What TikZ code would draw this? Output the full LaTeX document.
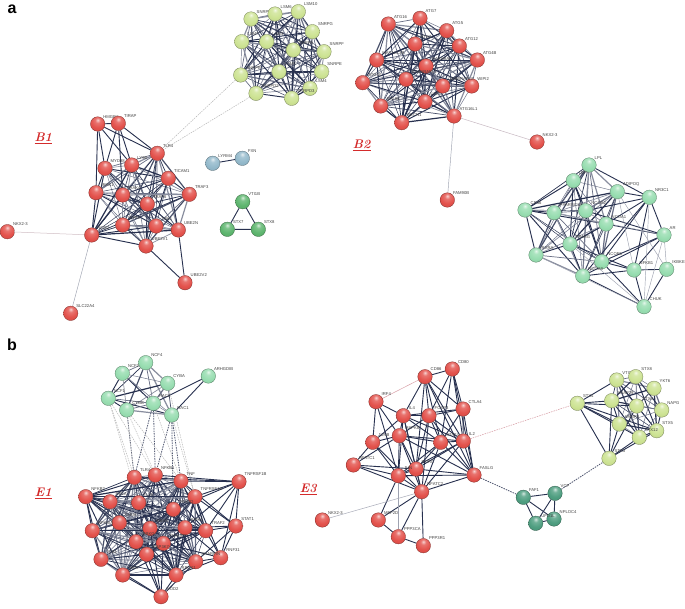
\documentclass[tikz,border=0pt]{standalone}
\usepackage{fontspec}
\setsansfont{Liberation Sans}
\pgfdeclarelayer{bg}
\pgfsetlayers{bg,main}
\makeatletter
\pgfdeclareradialshading[tikz@ball]{lball}{\pgfqpoint{0bp}{14bp}}{%
  color(0bp)=(tikz@ball!25!white); color(9bp)=(tikz@ball!80!white);
  color(24bp)=(tikz@ball); color(42bp)=(tikz@ball!92!black);
  color(56bp)=(tikz@ball!72!black); color(100bp)=(tikz@ball!72!black)}
\makeatother
\definecolor{rc}{HTML}{E3514B}
\definecolor{yc}{HTML}{CDE393}
\definecolor{gc}{HTML}{97DDB0}
\definecolor{tc}{HTML}{4E9E80}
\definecolor{sc}{HTML}{5DB56E}
\definecolor{bc}{HTML}{93B9CB}
\definecolor{ec}{HTML}{27304F}
\definecolor{lr}{HTML}{D42B2B}
\definecolor{pk}{HTML}{D9A0A8}
\tikzset{
  gn/.style={circle, inner sep=0pt, minimum size=14.5pt, ball color=#1, shading=lball, draw=#1!55!black, line width=0.3pt},
  lb/.style={font=\sffamily\fontsize{4.2}{4.5}\selectfont, text=black!75, inner sep=0.3pt},
  ed/.style={draw=ec, line width=0.9pt},
  led/.style={draw=ec!45!white, line width=0.45pt},
  dsh/.style={draw=ec!80!white, line width=0.8pt, dash pattern=on 1.5pt off 1pt},
  ldsh/.style={draw=black!30, line width=0.45pt, dash pattern=on 1.5pt off 1pt},
  pdsh/.style={draw=pk, line width=0.55pt, dash pattern=on 1.5pt off 1pt},
  panel/.style={font=\rmfamily\bfseries\itshape\fontsize{12.5}{12.5}\selectfont, text=lr},
  letter/.style={font=\sffamily\bfseries\fontsize{16}{16}\selectfont}
}
\newcommand\nd[5]{\node[gn=#1, label={[lb]45:#5}] (#2) at (#3,#4) {};}
\newcommand\mkclique[1]{%
  \foreach \a [count=\i] in {#1} {%
    \foreach \b [count=\j] in {#1} {%
      \ifnum\i<\j
        \pgfmathsetmacro\w{0.45+0.25*mod(\i+2*\j,4)}%
        \pgfmathtruncatemacro\pc{100-15*mod(\i*\j,4)}%
        \draw[draw=ec!\pc!white, line width=\w pt] (\a) -- (\b);
      \fi}}}
\begin{document}
\begin{tikzpicture}[x=1pt,y=-1pt]
\useasboundingbox (0,0) rectangle (685,608);
% ---------- panel letters ----------
\node[letter] (la) at (12,9) {a};
\node[letter] (lbb) at (12,345) {b};
\node[panel] (tB1) at (43.3,138.3) {\underline{B1}};
\node[panel] (tB2) at (361.7,145) {\underline{B2}};
\node[panel] (tE1) at (43.3,493.3) {\underline{E1}};
\node[panel] (tE3) at (308.3,489.3) {\underline{E3}};
% ---------- B1 ----------
\nd{rc}{p1}{97.7}{124}{HMGB1}
\nd{rc}{p2}{118.3}{123.3}{TIRAP}
\nd{rc}{p3}{157.3}{153.3}{TLR4}
\nd{rc}{p4}{105}{168.3}{MYD88}
\nd{rc}{p5}{131.7}{165}{LY96}
\nd{rc}{p6}{168.3}{178.3}{TICAM1}
\nd{rc}{p7}{189.3}{194.3}{TRAF3}
\nd{rc}{p8}{96}{192.7}{IRAK1}
\nd{rc}{p9}{122.7}{195}{IRAK4}
\nd{rc}{p10}{147.3}{204}{TRAF6}
\nd{rc}{p11}{122.7}{225}{RIPK2}
\nd{rc}{p12}{156}{226}{TBK1}
\nd{rc}{p13}{178.3}{230}{UBE2N}
\nd{rc}{p14}{91.7}{235}{NOD2}
\nd{rc}{p15}{146}{246}{UBE2V1}
\nd{rc}{p16}{7.3}{231.7}{NKX2-3}
\nd{rc}{p17}{185}{282.7}{UBE2V2}
\nd{rc}{p18}{70.7}{313.3}{SLC22A4}
% ---------- small groups ----------
\nd{bc}{q1}{212.7}{163.3}{LYRM4}
\nd{bc}{q2}{242.3}{158.3}{FXN}
\nd{sc}{v1}{242.7}{201.7}{VTI1B}
\nd{sc}{v2}{227.3}{229.3}{STX7}
\nd{sc}{v3}{258.3}{229.3}{STX8}
% ---------- spliceosome ----------
\nd{yc}{y1}{251}{19}{SNRPD1}
\nd{yc}{y2}{275}{14}{LSM6}
\nd{yc}{y3}{298.3}{11.7}{LSM10}
\nd{yc}{y4}{312.3}{31.7}{SNRPG}
\nd{yc}{y5}{324}{51.7}{SNRPF}
\nd{yc}{y6}{321.7}{71.7}{SNRPE}
\nd{yc}{y7}{310}{88.3}{LSM4}
\nd{yc}{y8}{291.7}{98.3}{SNRPD3}
\nd{yc}{y9}{256}{93.3}{SNRPD2}
\nd{yc}{y10}{240.7}{75}{SNRPB}
\nd{yc}{y11}{241.7}{41.7}{LSM7}
\nd{yc}{y12}{266.7}{41.7}{LSM3}
\nd{yc}{y13}{293.3}{50}{SNRPA}
\nd{yc}{y14}{279}{71.7}{LSM5}
% ---------- B2 ----------
\nd{rc}{a1}{388.3}{24}{ATG16}
\nd{rc}{a2}{420}{18.3}{ATG7}
\nd{rc}{a3}{446.7}{30.7}{ATG5}
\nd{rc}{a4}{459.3}{46}{ATG12}
\nd{rc}{a5}{477.3}{60}{ATG4B}
\nd{rc}{a6}{471.7}{86}{WIPI2}
\nd{rc}{a7}{454}{116}{ATG16L1}
\nd{rc}{a8}{425}{101.7}{ULK1}
\nd{rc}{a9}{442.7}{86}{GABARAPL2}
\nd{rc}{a10}{426}{66}{GABARAP}
\nd{rc}{a11}{415}{44}{ATG3}
\nd{rc}{a12}{376.7}{60}{MAP1LC3B}
\nd{rc}{a13}{362.7}{82.7}{ATG10}
\nd{rc}{a14}{406}{79.3}{GABARAPL1}
\nd{rc}{a15}{380.7}{106}{ATG9A}
\nd{rc}{a16}{401.7}{122.7}{BECN1}
\nd{rc}{a17}{447.3}{200}{FAM90B}
\nd{rc}{a18}{537}{142}{NKX2-3}
% ---------- lipid cluster ----------
\nd{gc}{g1}{589}{165}{LPL}
\nd{gc}{g2}{573.3}{180.7}{LEP}
\nd{gc}{g3}{617.3}{191.7}{ADIPOQ}
\nd{gc}{g4}{525}{210}{CD36}
\nd{gc}{g5}{554}{212.7}{PPARGC1A}
\nd{gc}{g6}{585.7}{210.7}{NCOA2}
\nd{gc}{g7}{606}{224}{NCOA1}
\nd{gc}{g8}{570}{244}{PPARG}
\nd{gc}{g9}{536}{255}{RXRA}
\nd{gc}{g10}{601.7}{261.7}{NCOR1}
\nd{gc}{g11}{582.7}{276}{NCOA3}
\nd{gc}{g12}{649.3}{197.3}{NR3C1}
\nd{gc}{g13}{664}{235}{AR}
\nd{gc}{g14}{634}{270}{NFKB1}
\nd{gc}{g15}{666.7}{269.3}{IKBKE}
\nd{gc}{g16}{644}{306.7}{CHUK}
% ---------- E1 green ----------
\nd{gc}{e1}{145.7}{362.7}{NCF4}
\nd{gc}{e2}{122.3}{373.3}{NCF2}
\nd{gc}{e3}{167.7}{383.3}{CYBA}
\nd{gc}{e4}{208.3}{376}{ARHGDIB}
\nd{gc}{e5}{108.3}{398.3}{NCF1}
\nd{gc}{e6}{126.7}{410}{CYBB}
\nd{gc}{e7}{153.3}{403.3}{RAC2}
\nd{gc}{e8}{171.7}{415}{RAC1}
% ---------- E1 red ----------
\nd{rc}{r1}{134.3}{477.3}{TLR4}
\nd{rc}{r2}{155.3}{475}{NFKB1}
\nd{rc}{r3}{181}{481}{TNF}
\nd{rc}{r4}{239}{481.7}{TNFRSF1B}
\nd{rc}{r5}{85.7}{496.7}{NFKB2}
\nd{rc}{r6}{110}{501.7}{RELA}
\nd{rc}{r7}{138.7}{502.7}{IL1B}
\nd{rc}{r8}{195}{496.7}{TNFRSF1A}
\nd{rc}{r9}{173.3}{509.3}{TRADD}
\nd{rc}{r10}{119.3}{522.7}{CHUK}
\nd{rc}{r11}{150}{528.3}{IKBKB}
\nd{rc}{r12}{185}{527.7}{RIPK1}
\nd{rc}{r13}{205.7}{530.7}{TRAF2}
\nd{rc}{r14}{235.7}{526}{STAT1}
\nd{rc}{r15}{92.3}{530.7}{NFKBIA}
\nd{rc}{r16}{136}{541.7}{IKBKG}
\nd{rc}{r17}{163.3}{543.3}{TNFAIP3}
\nd{rc}{r18}{146.7}{554.3}{MAP3K7}
\nd{rc}{r19}{101}{559.3}{TAB1}
\nd{rc}{r20}{220.7}{557.7}{RNF31}
\nd{rc}{r21}{195.7}{561.7}{SHARPIN}
\nd{rc}{r22}{122.7}{575}{TAB2}
\nd{rc}{r23}{176}{575}{RBCK1}
\nd{rc}{r24}{161}{596.7}{NOD2}
% ---------- E3 ----------
\nd{rc}{s1}{425}{376.7}{CD86}
\nd{rc}{s2}{452.3}{369}{CD80}
\nd{rc}{s3}{376}{401.7}{IRF4}
\nd{rc}{s4}{403.3}{415.7}{IL4}
\nd{rc}{s5}{429}{415.7}{FOXP3}
\nd{rc}{s6}{463}{409}{CTLA4}
\nd{rc}{s7}{399.3}{435.7}{MAPK8}
\nd{rc}{s8}{440.7}{442.3}{STAT4}
\nd{rc}{s9}{463.3}{441}{IL2}
\nd{rc}{s10}{372.7}{442.3}{JUNB}
\nd{rc}{s11}{353.3}{465}{NFATC1}
\nd{rc}{s12}{416}{469}{RORC}
\nd{rc}{s13}{398.3}{475.7}{JUN}
\nd{rc}{s14}{474}{475}{FASLG}
\nd{rc}{s15}{421.7}{491.7}{NFATC2}
\nd{rc}{s16}{322.3}{520}{NKX2-3}
\nd{rc}{s17}{378.3}{520}{MEF2D}
\nd{rc}{s18}{398.3}{536.7}{PPP3CA}
\nd{rc}{s19}{423.3}{545.7}{PPP3R1}
% ---------- SNARE ----------
\nd{yc}{t1}{616.7}{380}{VTI1A}
\nd{yc}{t2}{635.7}{376.7}{STX8}
\nd{yc}{t3}{654}{388.3}{YKT6}
\nd{yc}{t4}{577.3}{403.3}{STX4}
\nd{yc}{t5}{611.7}{400.7}{SNAP29}
\nd{yc}{t6}{636.7}{406}{STX6}
\nd{yc}{t7}{661.7}{410}{NAPG}
\nd{yc}{t8}{619.3}{424}{VAMP3}
\nd{yc}{t9}{656.7}{430.7}{STX5}
\nd{yc}{t10}{639.3}{437.3}{STX12}
\nd{yc}{t11}{609}{458.3}{STX3}
% ---------- VCP ----------
\nd{tc}{u1}{523.3}{497.3}{FAF1}
\nd{tc}{u2}{555}{493.3}{VCP}
\nd{tc}{u3}{554}{519}{NPLOC4}
\nd{tc}{u4}{535.7}{523.3}{UFD1L}
% ================= EDGES =================
\begin{pgfonlayer}{bg}
\fill[white] (0,0) rectangle (685,608);
% B1
\mkclique{p3,p4,p5,p6,p7,p8,p9,p10,p11,p12,p13,p14,p15}
\foreach \u/\v in {p1/p2,p1/p4,p1/p3,p1/p8,p1/p5,p2/p3,p2/p4,p2/p5,p2/p9,p17/p13,p17/p15}
  \draw[ed] (\u) -- (\v);
\draw[draw=pk!70!ec!50!white, line width=0.5pt] (p16) -- (p14);
\draw[led] (p18) -- (p14);
\draw[ldsh] (y10) -- (p3);
\draw[ldsh] (y9) -- (p3);
\draw[ed] (q1) -- (q2);
\draw[ed] (v1) -- (v2) (v2) -- (v3) (v3) -- (v1);
% spliceosome
\mkclique{y1,y2,y3,y4,y5,y6,y7,y8,y9,y10,y11,y12,y13,y14}
% B2
\mkclique{a1,a2,a3,a4,a5,a6,a7,a8,a9,a10,a11,a12,a13,a14,a15,a16}
\draw[led] (a7) -- (a17);
\draw[draw=pk!60!ec!50!white, line width=0.5pt] (a7) -- (a18);
% lipid
\mkclique{g1,g2,g3,g4,g5,g6,g7,g8,g9,g10,g11}
\foreach \u/\v in {g12/g1,g12/g3,g12/g6,g12/g7,g12/g10,g12/g13,g12/g14,g12/g11,g13/g7,g13/g10,g13/g11,g13/g14,g13/g6,g14/g15,g14/g16,g14/g10,g14/g11,g14/g8,g15/g16,g16/g11,g16/g10}
  \draw[ed] (\u) -- (\v);
\foreach \u/\v in {g13/g15,g13/g16,g15/g3,g16/g8,g12/g16,g14/g3,g16/g9,g13/g5}
  \draw[led] (\u) -- (\v);
% E1 green
\mkclique{e1,e2,e3,e5,e6,e7,e8}
\draw[ed] (e4) -- (e8);
\draw[ed] (e4) -- (e7);
% E1 green-red
\foreach \u/\v in {e7/r2,e8/r2,e8/r3,e8/r9,e6/r1,e7/r1}
  \draw[dsh] (\u) -- (\v);
\foreach \u/\v in {e5/r1,e5/r7,e6/r2,e6/r3,e2/r1,e3/r8,e5/r2,e7/r3,e8/r8}
  \draw[ldsh] (\u) -- (\v);
% E1 red
\mkclique{r1,r2,r3,r5,r6,r7,r8,r9,r10,r11,r12,r13,r15,r16,r17,r18,r19,r21,r22,r23}
\foreach \u/\v in {r4/r1,r4/r2,r4/r3,r4/r8,r4/r9,r4/r13,r4/r14,r4/r12,r4/r20,r14/r8,r14/r13,r14/r12,r14/r20,r14/r21,r14/r3,r20/r13,r20/r21,r20/r23,r20/r12,r20/r17,r20/r8,r24/r22,r24/r23,r24/r18,r24/r19,r24/r16,r24/r17,r24/r11,r24/r21}
  \draw[ed] (\u) -- (\v);
% E3
\foreach \u/\v in {s1/s2,s1/s4,s1/s5,s1/s6,s1/s8,s1/s9,s1/s12,s1/s14,s2/s5,s2/s6,s2/s8,s2/s9,s2/s14,s3/s4,s3/s7,s3/s10,s3/s13,s4/s5,s4/s6,s4/s7,s4/s8,s4/s9,s4/s10,s4/s12,s4/s13,s4/s15,s5/s6,s5/s7,s5/s8,s5/s9,s5/s12,s5/s14,s5/s15,s6/s9,s6/s14,s6/s8,s7/s8,s7/s9,s7/s10,s7/s11,s7/s12,s7/s13,s7/s15,s7/s14,s8/s9,s8/s12,s8/s13,s8/s14,s8/s15,s9/s12,s9/s14,s9/s15,s9/s13,s10/s11,s10/s13,s10/s15,s11/s13,s11/s15,s11/s12,s12/s13,s12/s14,s12/s15,s13/s15,s13/s14,s14/s15,s13/s17,s15/s17,s15/s18,s15/s19,s17/s18,s18/s19}
  \draw[ed] (\u) -- (\v);
\draw[draw=pk, line width=0.5pt] (s1) -- (s3);
\draw[led] (s13) -- (s18);
\draw[draw=ec!40!white, line width=0.5pt] (s16) -- (s15);
% SNARE
\mkclique{t1,t2,t3,t5,t6,t7,t8,t9,t10}
\foreach \u/\v in {t4/t1,t4/t5,t4/t6,t4/t8,t4/t9,t4/t10,t4/t11,t11/t5,t11/t6,t11/t8,t11/t9,t11/t10}
  \draw[ed] (\u) -- (\v);
% VCP
\foreach \u/\v in {u1/u2,u1/u4,u2/u3,u2/u4,u3/u4,u1/u3}
  \draw[ed] (\u) -- (\v);
\draw[dsh] (s14) -- (u1);
\draw[dsh] (u2) -- (t11);
\draw[pdsh] (s9) -- (t4);
\end{pgfonlayer}
\end{tikzpicture}
\end{document}
